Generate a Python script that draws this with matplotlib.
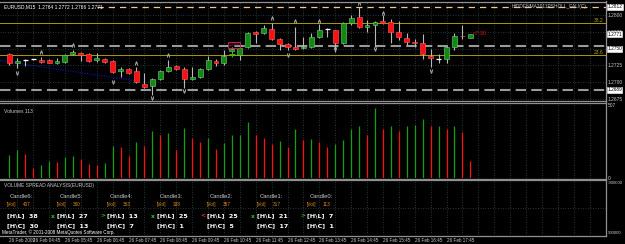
import matplotlib
matplotlib.use('Agg')
import matplotlib.pyplot as plt
from matplotlib.lines import Line2D
import numpy as np

#%% EURUSD M15, 26 Feb 2009 (bar 0 = 04:00)
opens  = [1.2742, 1.2729, 1.2733, 1.2734, 1.2733, 1.2733, 1.2729, 1.2730, 1.2742, 1.2743,
          1.2742, 1.2733, 1.2735, 1.2732, 1.2717, 1.2720, 1.2717, 1.2697, 1.2694, 1.2705,
          1.2717, 1.2724, 1.2720, 1.2705, 1.2708, 1.2720, 1.2732, 1.2729, 1.2746, 1.2741,
          1.2752, 1.2775, 1.2773, 1.2779, 1.2764, 1.2757, 1.2752, 1.2751, 1.2752, 1.2767,
          1.2779, 1.2777, 1.2758, 1.2788, 1.2797, 1.2782, 1.2785, 1.2791, 1.2790, 1.2775,
          1.2766, 1.2760, 1.2758, 1.2739, 1.2735, 1.2735, 1.2753, 1.2769, 1.2766]
highs  = [1.2744, 1.2736, 1.2735, 1.2735, 1.2738, 1.2734, 1.2736, 1.2742, 1.2748, 1.2745,
          1.2744, 1.2744, 1.2736, 1.2733, 1.2723, 1.2721, 1.2723, 1.2714, 1.2706, 1.2718,
          1.2733, 1.2726, 1.2723, 1.2723, 1.2721, 1.2739, 1.2735, 1.2748, 1.2753, 1.2752,
          1.2775, 1.2776, 1.2785, 1.2788, 1.2766, 1.2758, 1.2782, 1.2767, 1.2773, 1.2787,
          1.2781, 1.2778, 1.2790, 1.2800, 1.2812, 1.2793, 1.2791, 1.2800, 1.2794, 1.2791,
          1.2773, 1.2764, 1.2772, 1.2749, 1.2742, 1.2754, 1.2773, 1.2785, 1.2772]
lows   = [1.2726, 1.2721, 1.2724, 1.2733, 1.2729, 1.2728, 1.2727, 1.2729, 1.2740, 1.2732,
          1.2730, 1.2730, 1.2729, 1.2714, 1.2708, 1.2712, 1.2699, 1.2691, 1.2681, 1.2703,
          1.2715, 1.2718, 1.2691, 1.2703, 1.2706, 1.2718, 1.2724, 1.2726, 1.2744, 1.2733,
          1.2751, 1.2758, 1.2772, 1.2763, 1.2748, 1.2748, 1.2748, 1.2749, 1.2751, 1.2766,
          1.2767, 1.2745, 1.2757, 1.2785, 1.2781, 1.2775, 1.2752, 1.2787, 1.2758, 1.2763,
          1.2755, 1.2752, 1.2734, 1.2722, 1.2729, 1.2729, 1.2748, 1.2764, 1.2765]
closes = [1.2729, 1.2732, 1.2733, 1.2734, 1.2730, 1.2729, 1.2732, 1.2740, 1.2745, 1.2741,
          1.2732, 1.2736, 1.2730, 1.2715, 1.2720, 1.2714, 1.2700, 1.2693, 1.2705, 1.2717,
          1.2723, 1.2720, 1.2705, 1.2708, 1.2720, 1.2733, 1.2729, 1.2739, 1.2750, 1.2751,
          1.2773, 1.2772, 1.2781, 1.2764, 1.2757, 1.2752, 1.2749, 1.2753, 1.2767, 1.2778,
          1.2779, 1.2758, 1.2788, 1.2796, 1.2782, 1.2785, 1.2790, 1.2788, 1.2775, 1.2767,
          1.2760, 1.2759, 1.2742, 1.2736, 1.2735, 1.2753, 1.2768, 1.2768, 1.2771]
volumes = [158, 193, 167, 70, 88, 116, 111, 146, 153, 130,
           93, 90, 100, 223, 212, 151, 248, 221, 327, 297,
           313, 191, 348, 274, 250, 274, 200, 239, 297, 299,
           388, 297, 278, 235, 255, 212, 341, 264, 269, 250,
           216, 232, 262, 341, 360, 297, 487, 339, 362, 325,
           360, 365, 407, 360, 363, 338, 357, 317, 113]

# fractal arrows
frac_up_idx = [4, 8, 16, 20, 33, 36, 39, 44, 47]
frac_up_px  = [1.2745, 1.2755, 1.2729, 1.2740, 1.2796, 1.2791, 1.2791, 1.2818, 1.2803]
frac_dn_idx = [1, 13, 18, 22, 35, 41, 46, 53]
frac_dn_px  = [1.2714, 1.2700, 1.2677, 1.2687, 1.2740, 1.2749, 1.2750, 1.2717]

# horizontal objects on the chart
fib_levels = [1.2788, 1.2740]
fib_labels = ['38.2', '23.6']
grey_levels = [1.2754, 1.2689]
high_level = 1.2812
trend_idx = [-1.17, 16]
trend_px = [1.2732, 1.2702]

price_ticks = [1.2800, 1.2775, 1.2750, 1.2725, 1.2700, 1.2675]
boxed_prices = [1.2812, 1.2771, 1.2750, 1.2689]
time_idx = [0] + list(range(3, 56, 4))
time_labels = ['26 Feb 2009'] + ['26 Feb %02d:45' % hr for hr in range(4, 18)]

vsa_marks = ['', 'x', '>', 'x', '<', 'x', '>']
vsa_mark_colors = ['k', '#30c030', '#30c030', '#30c030', '#ff3030', '#30c030', '#30c030']

#%%
plt.rcParams['font.family'] = ['Liberation Sans Narrow', 'Liberation Sans', 'DejaVu Sans']

W, H = 625, 244
BG = 'black'
GRID = '#2c4848'
TXT = '#c8c8c8'
XMIN, XMAX = -1.17, 75.06

fig = plt.figure(figsize=(W / 100, H / 100), dpi=100, facecolor=BG)

def rect(y0, y1):
    return [0, 1 - y1 / H, 606 / W, (y1 - y0) / H]

ax_p = fig.add_axes(rect(2, 101))
ax_v = fig.add_axes(rect(104, 177.7))
ax_s = fig.add_axes(rect(180, 235))

n = len(opens)
idx = np.arange(n)
o, h, l, c = map(np.array, (opens, highs, lows, closes))

for ax in (ax_p, ax_v, ax_s):
    ax.set_facecolor(BG)
    for s in ax.spines.values():
        s.set_visible(False)
    ax.set_xlim(XMIN, XMAX)
    for gx in range(1, 76, 2):
        ax.axvline(gx, color=GRID, lw=0.6, ls=(0, (1, 2)), zorder=0)
    ax.yaxis.tick_right()
    ax.tick_params(axis='both', colors=TXT, labelsize=3.5, length=0, pad=1.5)
    ax.set_xticks([])

#%% price panel
ax_p.set_ylim(1.26720, 1.28193)
ax_p.set_yticks(price_ticks)
ax_p.set_yticklabels(['%.4f' % p for p in price_ticks])
for p in price_ticks:
    ax_p.axhline(p, color=GRID, lw=0.6, ls=(0, (1, 2)), zorder=0)

ax_p.hlines(high_level, 11, XMAX, color='#f2c690', lw=0.9, ls=(0, (5, 4)), zorder=1)
for lv, lb in zip(fib_levels, fib_labels):
    ax_p.axhline(lv, color='#a89c00', lw=0.7, zorder=1)
    ax_p.text(XMAX - 0.3, lv, lb, color='#b0a400', fontsize=3.6, ha='right', va='bottom')
for lv in grey_levels:
    ax_p.axhline(lv, color='#9a9a9a', lw=1.5, ls=(0, (5, 2.5)), zorder=1)
ax_p.plot(trend_idx, trend_px, color='#1010c8', lw=0.8, ls=(0, (1, 1.2)), zorder=1)

# candles
ax_p.vlines(idx, l, h, color='#b8b8b8', lw=0.8, zorder=2)
bull = c > o
bear = c < o
doji = c == o
ax_p.bar(idx[bull], (c - o)[bull], bottom=o[bull], width=0.62,
         color='#118a11', edgecolor='#7ccf7c', lw=0.4, zorder=3)
ax_p.bar(idx[bear], (o - c)[bear], bottom=c[bear], width=0.62,
         color='#ff1010', edgecolor='#ff6060', lw=0.4, zorder=3)
ax_p.hlines(o[doji], idx[doji] - 0.33, idx[doji] + 0.33, color='white', lw=0.9, zorder=3)

ax_p.plot(frac_up_idx, frac_up_px, ls='none', marker='$\\wedge$', ms=2.6, mew=0.3,
          color='#a8a8a8', zorder=4)
ax_p.plot(frac_dn_idx, frac_dn_px, ls='none', marker='$\\vee$', ms=2.6, mew=0.3,
          color='#a8a8a8', zorder=4)

# price box labels on the scale
for bp in boxed_prices:
    ax_p.text(1.002, bp, '%.4f' % bp, transform=ax_p.get_yaxis_transform(), fontsize=3.4,
              color='black', va='center', ha='left',
              bbox=dict(boxstyle='square,pad=0.1', fc='white', ec='white', lw=0.4))

ax_p.text(0.006, 0.975, 'EURUSD,M15  1.2764 1.2772 1.2766 1.2771', transform=ax_p.transAxes,
          fontsize=3.5, color='white', va='top')
ax_p.text(0.968, 0.975, 'HIDDENMA2011PSHOLL_FALI(C)', transform=ax_p.transAxes,
          fontsize=3.5, color=TXT, va='top', ha='right')
ax_p.text(58.3, 1.2773, '<7:30', color='#e01010', fontsize=4, va='center')
ax_p.text(27.6, 1.2755, '1.2750', color='#c02050', fontsize=2.6, va='center',
          bbox=dict(boxstyle='square,pad=0.2', fc='none', ec='#c02050', lw=0.7))
ax_p.plot([28.0], [1.2742], marker='+', ms=4, mew=0.7, color='#20c020', zorder=5)

#%% volume panel
vol = np.array(volumes)
vcol = ['#10a010'] + ['#10a010' if vol[i] > vol[i - 1] else '#ff1010' for i in range(1, n)]
ax_v.vlines(idx, 0, vol, colors=vcol, lw=0.9, zorder=2)
ax_v.set_ylim(0, 513)
ax_v.set_yticks([0, 507])
ax_v.set_yticklabels(['0', '507'])
ax_v.text(0.006, 0.93, 'Volumes 113', transform=ax_v.transAxes, fontsize=3.6, color=TXT, va='top')

#%% VSA panel
ax_s.set_ylim(1e6, -1e6)
ax_s.set_yticks([-900000, 900000])
ax_s.set_yticklabels(['-900000', '900000'])
ax_s.tick_params(axis='y', labelsize=3.1, pad=1)
ax_s.axhline(0, color=GRID, lw=0.6, ls=(0, (1, 2)), zorder=0)
ax_s.set_xticks(time_idx)
ax_s.set_xticklabels(time_labels, ha='left')
ax_s.tick_params(axis='x', labelsize=3.3, pad=2)

fig.text(4 / W, 1 - 186 / H, 'VOLUME SPREAD ANALYSIS(EURUSD)', fontsize=3.5, color=TXT, va='center')
for k in range(7):
    b = n - 7 + k
    name = 'Candle%d:' % (6 - k)
    x0 = (10 + 50 * k) / W
    fig.text(x0, 1 - 196 / H, name, fontsize=4.2, color=TXT, va='center')
    fig.text(x0 - 3 / W, 1 - 204.5 / H, '[Vol]', fontsize=3.4, color='#e08a10', va='center')
    fig.text(x0 + 13 / W, 1 - 204.5 / H, '%d' % volumes[b], fontsize=3.4, color='#e08a10', va='center')
    hl = round((h[b] - l[b]) * 10000)
    hc = round((h[b] - c[b]) * 10000)
    fig.text(x0 - 3 / W, 1 - 216 / H, '[H\\L]  %d' % hl, fontsize=4.6, color='white',
             weight='bold', va='center', family='DejaVu Sans')
    fig.text(x0 - 3 / W, 1 - 226 / H, '[H\\C]  %d' % hc, fontsize=4.6, color='white',
             weight='bold', va='center', family='DejaVu Sans')
    if vsa_marks[k]:
        fig.text(x0 - 9.5 / W, 1 - 216 / H, vsa_marks[k], fontsize=4.3, color=vsa_mark_colors[k],
                 weight='bold', va='center', family='DejaVu Sans')
fig.text(2 / W, 1 - 232 / H, 'MetaTrader, \u00a9 2001-2008 MetaQuotes Software Corp.',
         fontsize=3.3, color='white', va='center')

#%% panel borders
for yy in (1.5, 101.5, 103, 178.5, 180, 235.5):
    fig.add_artist(Line2D([0, 606 / W], [1 - yy / H] * 2, color='#909090', lw=0.9))
fig.add_artist(Line2D([606 / W] * 2, [1 - 0.5 / H, 1 - 236 / H], color='#909090', lw=0.9))

fig.savefig('out.png', dpi=100, facecolor=BG)
